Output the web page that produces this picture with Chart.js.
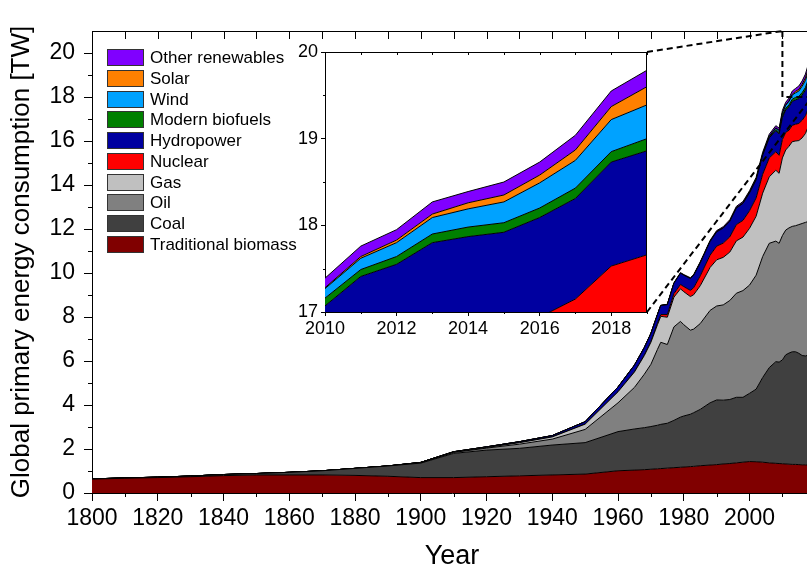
<!DOCTYPE html>
<html>
<head>
<meta charset="utf-8">
<title>Global primary energy consumption</title>
<script src="https://cdn.jsdelivr.net/npm/chart.js@4.4.0/dist/chart.umd.min.js"></script>
<style>
  html, body { margin: 0; padding: 0; background: #fff; overflow: hidden; }
  #wrap { position: relative; width: 807px; height: 573px; overflow: hidden; background: #fff; }
  #main { position: absolute; left: 0; top: 0; }
  #inset { position: absolute; left: 285px; top: 35px; }
</style>
</head>
<body>
<div id="wrap">
  <canvas id="main" width="812" height="573"></canvas>
  <canvas id="inset" width="370" height="305"></canvas>
</div>
<script>
// ---- Data (TW), one value per year ----
const years = [
  1800, 1810, 1820, 1830, 1840, 1850, 1860, 1870, 1880, 1890,
  1900, 1910, 1920, 1930, 1940, 1950, 1960,
  1965, 1968, 1970, 1972, 1973, 1975, 1977, 1979, 1980, 1982,
  1983, 1985, 1988, 1990, 1992, 1994, 1996, 1998, 2000, 2002,
  2004, 2006, 2008, 2009,
  2010, 2011, 2012, 2013, 2014, 2015, 2016, 2017, 2018, 2019
];

const traditionalBiomass = [
  0.63, 0.67, 0.70, 0.74, 0.79, 0.82, 0.82, 0.82, 0.80, 0.76,
  0.70, 0.70, 0.74, 0.78, 0.82, 0.86, 1.01,
  1.04, 1.06, 1.08, 1.10, 1.11, 1.13, 1.15, 1.17, 1.18, 1.20,
  1.21, 1.24, 1.27, 1.29, 1.32, 1.34, 1.37, 1.40, 1.43, 1.42,
  1.40, 1.37, 1.35, 1.34,
  1.33, 1.32, 1.31, 1.30, 1.30, 1.29, 1.28, 1.28, 1.27, 1.27
];
const coal = [
  0.01, 0.015, 0.02, 0.03, 0.05, 0.065, 0.12, 0.19, 0.32, 0.47,
  0.66, 1.10, 1.21, 1.25, 1.36, 1.43, 1.78,
  1.87, 1.91, 1.94, 1.98, 2.01, 2.04, 2.15, 2.28, 2.32, 2.38,
  2.44, 2.56, 2.83, 2.94, 2.90, 2.91, 2.98, 2.95, 3.10, 3.30,
  3.85, 4.33, 4.62, 4.61,
  4.72, 4.96, 5.05, 5.12, 5.12, 5.06, 4.97, 4.95, 5.00, 4.96
];
const oil = [
  0, 0, 0, 0, 0, 0, 0, 0, 0, 0,
  0.02, 0.045, 0.09, 0.19, 0.27, 0.60, 1.31,
  1.89, 2.43, 2.83, 3.45, 3.73, 3.58, 4.25, 4.35, 4.15, 3.82,
  3.80, 3.90, 4.20, 4.27, 4.33, 4.50, 4.73, 4.85, 4.92, 5.18,
  5.50, 5.65, 5.48, 5.40,
  5.65, 5.67, 5.69, 5.70, 5.73, 5.85, 6.00, 6.07, 6.08, 6.12
];
const gas = [
  0, 0, 0, 0, 0, 0, 0, 0, 0, 0,
  0.007, 0.016, 0.027, 0.067, 0.10, 0.24, 0.50,
  0.70, 0.85, 1.00, 1.12, 1.18, 1.24, 1.35, 1.48, 1.50, 1.53,
  1.56, 1.72, 1.95, 2.10, 2.16, 2.20, 2.38, 2.43, 2.58, 2.68,
  2.88, 3.02, 3.22, 3.18,
  3.53, 3.64, 3.71, 3.85, 3.85, 3.82, 3.89, 4.04, 4.36, 4.48
];
const nuclear = [
  0, 0, 0, 0, 0, 0, 0, 0, 0, 0,
  0, 0, 0, 0, 0, 0, 0,
  0.01, 0.02, 0.03, 0.06, 0.08, 0.12, 0.16, 0.20, 0.23, 0.28,
  0.32, 0.45, 0.56, 0.62, 0.65, 0.69, 0.74, 0.76, 0.80, 0.83,
  0.86, 0.86, 0.84, 0.82,
  0.84, 0.80, 0.73, 0.74, 0.76, 0.78, 0.80, 0.81, 0.82, 0.83
];
const hydropower = [
  0, 0, 0, 0, 0, 0, 0, 0, 0, 0,
  0.005, 0.015, 0.03, 0.045, 0.06, 0.11, 0.22,
  0.30, 0.34, 0.37, 0.40, 0.41, 0.45, 0.47, 0.51, 0.52, 0.54,
  0.56, 0.59, 0.62, 0.65, 0.68, 0.71, 0.75, 0.77, 0.81, 0.82,
  0.86, 0.91, 0.96, 0.97,
  1.00, 1.02, 1.06, 1.09, 1.11, 1.12, 1.15, 1.16, 1.20, 1.20
];
const modernBiofuels = [
  0, 0, 0, 0, 0, 0, 0, 0, 0, 0,
  0, 0, 0, 0, 0, 0, 0,
  0, 0, 0, 0, 0, 0, 0, 0, 0.002, 0.003,
  0.004, 0.005, 0.006, 0.007, 0.007, 0.008, 0.009, 0.010, 0.012, 0.015,
  0.020, 0.030, 0.055, 0.065,
  0.09, 0.08, 0.09, 0.10, 0.11, 0.11, 0.11, 0.12, 0.12, 0.14
];
const wind = [
  0, 0, 0, 0, 0, 0, 0, 0, 0, 0,
  0, 0, 0, 0, 0, 0, 0,
  0, 0, 0, 0, 0, 0, 0, 0, 0, 0,
  0, 0, 0, 0.001, 0.002, 0.003, 0.005, 0.008, 0.012, 0.020,
  0.030, 0.045, 0.070, 0.090,
  0.11, 0.13, 0.16, 0.19, 0.21, 0.24, 0.29, 0.32, 0.37, 0.39
];
const solar = [
  0, 0, 0, 0, 0, 0, 0, 0, 0, 0,
  0, 0, 0, 0, 0, 0, 0,
  0, 0, 0, 0, 0, 0, 0, 0, 0, 0,
  0, 0, 0, 0, 0, 0, 0, 0, 0, 0,
  0.0005, 0.001, 0.003, 0.005,
  0.01, 0.02, 0.03, 0.04, 0.07, 0.08, 0.09, 0.12, 0.15, 0.21
];
const otherRenewables = [
  0, 0, 0, 0, 0, 0, 0, 0, 0, 0,
  0, 0, 0, 0, 0, 0, 0,
  0.010, 0.012, 0.014, 0.016, 0.017, 0.020, 0.023, 0.026, 0.028, 0.032,
  0.034, 0.040, 0.045, 0.050, 0.055, 0.060, 0.065, 0.070, 0.075, 0.080,
  0.085, 0.090, 0.100, 0.105,
  0.11, 0.12, 0.12, 0.14, 0.13, 0.15, 0.15, 0.17, 0.18, 0.19
];

// Stacking order, bottom to top
const seriesNames = ['Traditional biomass', 'Coal', 'Oil', 'Gas', 'Nuclear',
  'Hydropower', 'Modern biofuels', 'Wind', 'Solar', 'Other renewables'];
const seriesValues = [traditionalBiomass, coal, oil, gas, nuclear,
  hydropower, modernBiofuels, wind, solar, otherRenewables];
const seriesColors = ['#800000', '#404040', '#808080', '#c0c0c0', '#ff0000',
  '#0000a0', '#008000', '#00a2ff', '#ff8000', '#8000ff'];

// Tick labels
const xTickValues = [1800, 1820, 1840, 1860, 1880, 1900, 1920, 1940, 1960, 1980, 2000];
const yTickValues = [0, 2, 4, 6, 8, 10, 12, 14, 16, 18, 20];
const insetXTickValues = [2010, 2012, 2014, 2016, 2018];
const insetYTickValues = [17, 18, 19, 20];

// Zoomed window marked on the main plot
const zoomYears = [2010, 2019];
const zoomRange = [18, 21];

Chart.defaults.font.family = "'Liberation Sans', Arial, Helvetica, sans-serif";
Chart.defaults.color = '#000';

function buildDatasets(fromYear) {
  return seriesValues.map((vals, i) => ({
    label: seriesNames[i],
    data: years.map((yr, j) => ({ x: yr, y: vals[j] })).filter(p => p.x >= fromYear),
    backgroundColor: seriesColors[i],
    borderColor: '#000',
    borderWidth: 1,
    fill: i === 0 ? 'origin' : '-1',
    pointRadius: 0,
    pointHoverRadius: 0,
    tension: 0
  }));
}

function setTicks(values) {
  return scale => { scale.ticks = values.map(v => ({ value: v })); };
}

const tickGrid = (len) => ({
  display: true, drawOnChartArea: false, drawTicks: true,
  tickLength: len, color: '#000', tickColor: '#000', lineWidth: 1
});

// ---- Inset (2010-2019) ----
const insetCanvas = document.getElementById('inset');

const insetFrame = {
  id: 'insetFrame',
  beforeDraw(chart) {
    const { ctx, chartArea: a } = chart;
    ctx.save();
    ctx.fillStyle = '#fff';
    ctx.fillRect(a.left, a.top, a.right - a.left, a.bottom - a.top);
    ctx.restore();
  },
  afterDraw(chart) {
    const { ctx, chartArea: a, scales: { x, y } } = chart;
    ctx.save();
    ctx.strokeStyle = '#000';
    ctx.lineWidth = 1;
    ctx.beginPath();
    const t = Math.round(a.top) + 0.5, r = Math.round(a.right) - 0.5;
    ctx.moveTo(a.left, t); ctx.lineTo(a.right, t);
    ctx.moveTo(r, a.top); ctx.lineTo(r, a.bottom);
    for (let v = 2011; v <= 2019; v += 2) {
      const px = Math.round(x.getPixelForValue(v)) + 0.5;
      ctx.moveTo(px, a.bottom); ctx.lineTo(px, a.bottom + 2);
    }
    for (let v = 2010; v <= 2019; v += 1) {
      const px = Math.round(x.getPixelForValue(v)) + 0.5;
      ctx.moveTo(px, a.top); ctx.lineTo(px, a.top + 3);
    }
    for (let v = 17.5; v < 20; v += 1) {
      const py = Math.round(y.getPixelForValue(v)) + 0.5;
      ctx.moveTo(a.left - 2, py); ctx.lineTo(a.left, py);
    }
    ctx.stroke();
    ctx.restore();
  }
};

const insetChart = new Chart(insetCanvas, {
  type: 'line',
  data: { datasets: buildDatasets(zoomYears[0]) },
  options: {
    responsive: false,
    animation: false,
    devicePixelRatio: 1,
    layout: { padding: { top: 17, right: 8, left: 0, bottom: 0 } },
    plugins: { legend: { display: false }, tooltip: { enabled: false } },
    elements: { line: { borderJoinStyle: 'round' } },
    scales: {
      x: {
        type: 'linear', min: zoomYears[0], max: zoomYears[1],
        afterBuildTicks: setTicks(insetXTickValues),
        ticks: { font: { size: 18 }, color: '#000', padding: 2, maxRotation: 0, autoSkip: false, callback: v => String(v) },
        grid: tickGrid(4),
        border: { display: true, color: '#000', width: 1 },
        afterFit: s => { s.height = 28; }
      },
      y: {
        type: 'linear', stacked: true, min: 17, max: 20,
        afterBuildTicks: setTicks(insetYTickValues),
        ticks: { font: { size: 18 }, color: '#000', padding: 3, callback: v => String(v) },
        grid: tickGrid(4),
        border: { display: true, color: '#000', width: 1 },
        afterFit: s => { s.width = 40; }
      }
    }
  },
  plugins: [insetFrame]
});

// ---- Main plot ----
const mainDecor = {
  id: 'mainDecor',
  afterDraw(chart) {
    const { ctx, chartArea: a, scales: { x, y } } = chart;
    ctx.save();
    ctx.strokeStyle = '#000';
    ctx.lineWidth = 1;

    // frame top and minor ticks
    ctx.beginPath();
    const t = Math.round(a.top) + 0.5;
    ctx.moveTo(a.left, t); ctx.lineTo(a.right, t);
    for (let v = 1; v < 21; v += 2) {
      const py = Math.round(y.getPixelForValue(v)) + 0.5;
      ctx.moveTo(a.left - 4, py); ctx.lineTo(a.left, py);
    }
    for (let v = 1810; v <= 2010; v += 20) {
      const px = Math.round(x.getPixelForValue(v)) + 0.5;
      ctx.moveTo(px, a.bottom); ctx.lineTo(px, a.bottom + 4);
    }
    for (let v = 1800; v <= 2010; v += 10) {
      const px = Math.round(x.getPixelForValue(v)) + 0.5;
      ctx.moveTo(px, a.top); ctx.lineTo(px, a.top + 8);
    }
    ctx.stroke();

    // legend, top entry = last stacked series
    const lx = a.left + 15, ly = a.top + 18, pitch = 20.75;
    ctx.font = "17px 'Liberation Sans', Arial, sans-serif";
    ctx.textBaseline = 'middle';
    ctx.textAlign = 'left';
    for (let k = 0; k < seriesNames.length; k++) {
      const i = seriesNames.length - 1 - k;
      const top = Math.round(ly + k * pitch);
      ctx.fillStyle = seriesColors[i];
      ctx.fillRect(lx, top, 37, 17);
      ctx.strokeStyle = '#333';
      ctx.strokeRect(lx + 0.5, top + 0.5, 36, 16);
      ctx.fillStyle = '#000';
      ctx.fillText(seriesNames[i], lx + 43, top + 9);
    }

    // zoom window and connectors to the inset
    const bx0 = x.getPixelForValue(zoomYears[0]);
    const bx1 = x.getPixelForValue(zoomYears[1]);
    const byBottom = y.getPixelForValue(zoomRange[0]);
    const byTop = y.getPixelForValue(zoomRange[1]);
    const ia = insetChart.chartArea;
    const ox = insetCanvas.offsetLeft, oy = insetCanvas.offsetTop;
    ctx.strokeStyle = '#000';
    ctx.lineWidth = 2;
    ctx.setLineDash([6, 4]);
    ctx.beginPath();
    ctx.moveTo(bx0, byTop); ctx.lineTo(bx0, byBottom); ctx.lineTo(bx1, byBottom);
    ctx.moveTo(ox + ia.right, oy + ia.top); ctx.lineTo(bx0, byTop);
    ctx.moveTo(ox + ia.right, oy + ia.bottom); ctx.lineTo(bx1, byBottom);
    ctx.stroke();
    ctx.restore();
  }
};

new Chart(document.getElementById('main'), {
  type: 'line',
  data: { datasets: buildDatasets(years[0]) },
  options: {
    responsive: false,
    animation: false,
    devicePixelRatio: 1,
    layout: { padding: { top: 31, right: 0, left: 0, bottom: 0 } },
    plugins: { legend: { display: false }, tooltip: { enabled: false } },
    elements: { line: { borderJoinStyle: 'round' } },
    scales: {
      x: {
        type: 'linear', min: 1800, max: 2019,
        afterBuildTicks: setTicks(xTickValues),
        ticks: { font: { size: 23 }, color: '#000', padding: 4, maxRotation: 0, autoSkip: false, callback: v => String(v) },
        grid: tickGrid(8),
        border: { display: true, color: '#000', width: 1 },
        title: { display: true, text: 'Year', color: '#000', font: { size: 27 }, padding: { top: 0, bottom: 0 } },
        afterFit: s => { s.height = 80; }
      },
      y: {
        type: 'linear', stacked: true, min: 0, max: 21,
        afterBuildTicks: setTicks(yTickValues),
        ticks: { font: { size: 23 }, color: '#000', padding: 9, callback: v => String(v) },
        grid: tickGrid(8),
        border: { display: true, color: '#000', width: 1 },
        title: { display: true, text: 'Global primary energy consumption [TW]', color: '#000', font: { size: 26, lineHeight: 1.2 }, padding: { top: 6, bottom: 0 } },
        afterFit: s => { s.width = 92; }
      }
    }
  },
  plugins: [mainDecor]
});
</script>
</body>
</html>
